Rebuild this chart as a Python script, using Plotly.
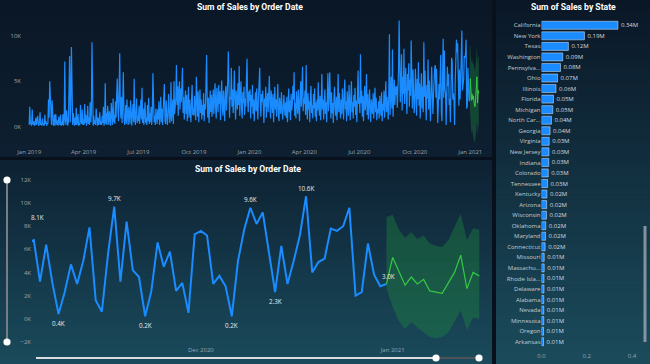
import pandas as pd
import plotly.graph_objects as go

# ---------------- DATA ----------------
# Daily sales in thousands (K), one list per month
sales_2019_01 = [0.2,2.2,0.3,0.5,0.1,1.9,0.4,0.2,0.6,0.1,0.3,1.0,0.2,0.8,1.2,0.3,0.1,0.5,1.6,0.2,0.4,0.1,0.9,0.3,0.2,0.1,1.3,0.3,0.6,0.1,0.4]
sales_2019_02 = [0.3,3.0,1.0,5.0,3.1,0.4,0.2,2.9,0.8,0.1,0.3,1.3,0.1,1.4,0.5,0.2,0.7,0.1,1.1,0.3,0.2,1.3,0.1,0.5,0.2,1.4,0.1,0.6]
sales_2019_03 = [7.2,0.9,0.2,1.8,0.4,0.1,0.6,3.5,7.8,0.5,2.6,8.8,0.4,0.2,1.5,0.3,0.1,1.0,0.2,2.1,0.2,0.5,1.4,0.1,0.4,0.2,2.4,0.6,0.3,1.9,0.2]
sales_2019_04 = [0.8,0.2,2.5,0.4,1.3,0.1,0.6,2.3,0.3,1.0,0.2,2.7,0.5,1.4,9.3,0.4,0.1,1.2,0.3,0.7,0.2,2.0,0.4,0.1,1.0,0.2,0.5,1.6,0.2,0.6]
sales_2019_05 = [0.2,1.2,0.4,2.2,0.1,0.6,4.8,0.3,1.5,0.2,2.3,0.7,0.2,1.7,0.4,0.1,2.6,0.8,0.2,3.1,0.5,1.3,0.3,2.8,1.0,3.5,5.3,2.0,0.6,3.9,8.1]
sales_2019_06 = [2.1,0.9,3.3,0.4,2.7,6.0,1.5,0.2,0.8,2.4,0.3,3.0,1.2,0.2,2.2,0.7,0.3,2.9,1.0,0.1,1.6,2.5,0.5,5.3,0.9,0.2,1.8,3.1,0.4,1.2]
sales_2019_07 = [0.6,2.3,0.3,1.6,3.0,0.8,4.3,0.4,2.0,0.2,1.3,2.7,0.4,1.0,0.2,2.4,0.6,3.2,0.3,1.5,0.5,2.2,0.2,1.4,5.9,2.3,0.5,1.2,0.2,2.0,0.7]
sales_2019_08 = [0.3,1.9,0.8,2.8,0.2,1.2,3.3,0.5,2.0,0.2,1.4,2.5,4.7,0.7,0.3,2.9,1.5,0.2,1.1,3.6,2.0,0.4,1.3,4.9,0.6,2.4,3.0,0.3,5.0,1.4,2.6]
sales_2019_09 = [3.1,6.8,2.4,4.5,1.2,3.8,5.0,1.9,4.2,2.7,4.9,6.5,1.5,3.3,0.8,2.6,4.0,1.4,3.5,0.6,2.2,4.4,1.0,3.0,1.8,0.5,2.9,4.6,1.3,2.0]
sales_2019_10 = [1.2,3.4,2.0,0.7,5.5,2.6,1.1,3.9,0.5,2.2,4.1,1.5,3.0,0.8,2.4,1.3,3.7,0.6,2.5,1.9,4.3,7.9,2.8,1.0,3.2,0.4,2.0,4.0,1.6,3.5,1.1]
sales_2019_11 = [2.3,4.1,1.4,3.6,4.8,2.0,0.9,4.3,3.1,1.6,4.6,2.5,3.9,0.7,3.4,5.1,2.2,1.2,4.0,2.8,0.6,3.7,4.5,1.8,2.9,5.0,8.3,2.4,1.0,3.3]
sales_2019_12 = [3.0,6.5,2.2,4.1,1.5,3.6,6.2,2.7,0.8,4.0,3.3,1.9,4.8,2.4,6.7,1.2,3.5,5.0,2.0,0.9,3.8,2.6,4.4,1.3,3.1,2.2,5.3,7.5,2.8,1.6,3.9]
sales_2020_01 = [2.8,4.1,0.9,3.5,2.2,4.6,1.4,3.0,0.6,2.5,3.8,1.7,4.2,2.0,0.8,3.3,5.0,6.5,2.4,1.1,3.6,2.7,4.0,1.5,0.4,3.1,2.2,4.4,1.0,2.9,3.7]
sales_2020_02 = [1.6,3.4,5.6,2.3,0.9,4.0,2.8,1.5,3.6,0.5,2.6,4.4,1.9,3.0,1.1,2.4,4.7,1.3,0.6,3.2,2.0,1.4,3.8,2.5,0.8,1.8,3.5,2.2,1.2]
sales_2020_03 = [2.7,1.0,3.3,0.5,2.1,4.2,1.6,2.9,0.7,3.6,1.8,2.4,4.5,3.0,6.0,1.2,2.6,0.9,3.9,2.0,1.4,4.1,2.8,0.6,3.4,5.0,2.2,4.6,6.6,1.7,3.1]
sales_2020_04 = [2.5,4.0,1.3,6.8,2.1,0.8,3.7,1.9,2.8,0.5,3.2,4.5,1.5,2.4,0.9,3.6,2.0,4.2,1.1,2.7,0.6,3.0,1.8,4.9,2.3,1.2,3.4,0.7,2.6,5.8]
sales_2020_05 = [1.9,3.0,0.8,2.4,4.1,1.4,2.7,0.5,3.5,5.9,1.7,2.9,6.0,2.2,0.9,3.8,1.5,2.6,0.4,3.1,4.4,2.0,1.2,3.3,0.7,2.5,5.8,1.6,3.7,2.1,0.9]
sales_2020_06 = [3.0,1.4,4.2,2.3,0.8,3.6,5.2,1.9,2.8,0.6,3.9,2.4,1.2,4.6,2.0,0.7,3.3,5.0,1.6,2.7,0.9,3.5,2.2,4.3,1.3,2.9,0.5,3.1,6.2,2.5]
sales_2020_07 = [3.2,1.5,8.0,2.6,4.0,1.1,3.4,0.6,2.2,4.5,1.8,2.9,5.8,1.3,3.6,0.8,2.4,4.1,1.9,0.5,3.0,2.3,1.4,3.7,0.9,2.7,4.3,1.6,3.2,0.7,2.0]
sales_2020_08 = [1.5,2.8,0.9,3.4,2.1,1.2,3.8,0.6,2.5,1.8,4.0,1.0,2.9,5.0,1.6,3.3,2.2,0.8,4.2,10.2,1.3,3.6,5.5,2.0,8.5,1.1,3.9,5.2,2.4,4.4,3.5]
sales_2020_09 = [4.5,2.1,3.8,6.0,11.7,7.2,2.7,4.9,8.0,1.8,5.5,3.6,8.6,2.5,4.2,6.5,3.0,1.4,5.8,4.0,7.0,2.2,5.2,3.4,9.5,4.6,2.0,6.3,3.9,1.5]
sales_2020_10 = [2.6,6.4,4.1,1.2,5.3,3.0,7.1,2.3,4.8,0.9,3.7,5.9,2.0,4.4,1.6,9.3,3.3,6.2,2.8,0.7,4.6,3.1,7.4,1.9,5.1,2.5,0.6,4.0,6.6,3.4,1.4]
sales_2020_11 = [3.5,5.8,6.5,6.8,3.2,6.4,3.1,0.4,2.3,4.7,3.0,5.0,7.9,1.6,0.6,5.6,9.7,3.2,8.4,4.2,3.6,0.2,2.4,6.6,4.5,5.8,2.4,3.1,0.5,7.3]
sales_2020_12 = [7.6,7.2,3.0,3.7,2.8,0.2,5.0,7.7,9.6,8.2,9.2,5.6,2.3,6.3,3.0,5.0,7.2,10.6,4.0,4.9,5.2,7.8,7.6,8.0,9.6,2.0,2.3,6.5,3.8,2.8,3.0]

# Forecast (K), 2020-12-31 (anchor on last actual) through 2021-01-15
forecast_mid   = [3.0, 5.3, 4.1, 2.9, 3.6, 3.0, 3.4, 2.4, 2.3, 2.2, 3.1, 4.0, 5.5, 2.6, 4.0, 3.7]
forecast_upper = [8.8, 9.0, 7.7, 7.0, 7.5, 6.9, 7.2, 6.5, 6.3, 6.2, 6.8, 7.9, 9.1, 6.8, 7.8, 7.7]
forecast_lower = [2.6, 1.0, -0.2, -0.9, -0.3, -0.8, -1.2, -1.6, -1.7, -1.6, -1.2, -0.3, 0.7, -1.0, 0.1, 0.0]

# Sales by state (millions)
states = ["California", "New York", "Texas", "Washington", "Pennsylvania", "Ohio", "Illinois",
          "Florida", "Michigan", "North Carolina", "Georgia", "Virginia", "New Jersey", "Indiana",
          "Colorado", "Tennessee", "Kentucky", "Arizona", "Wisconsin", "Oklahoma", "Maryland",
          "Connecticut", "Missouri", "Massachusetts", "Rhode Island", "Delaware", "Alabama",
          "Nevada", "Minnesota", "Oregon", "Arkansas"]
state_labels = ["California", "New York", "Texas", "Washington", "Pennsylva...", "Ohio", "Illinois",
                "Florida", "Michigan", "North Car...", "Georgia", "Virginia", "New Jersey", "Indiana",
                "Colorado", "Tennessee", "Kentucky", "Arizona", "Wisconsin", "Oklahoma", "Maryland",
                "Connecticut", "Missouri", "Massachu...", "Rhode Isla...", "Delaware", "Alabama",
                "Nevada", "Minnesota", "Oregon", "Arkansas"]
state_sales = [0.338, 0.190, 0.119, 0.094, 0.084, 0.071, 0.064, 0.053, 0.050, 0.044, 0.038, 0.034,
               0.033, 0.032, 0.030, 0.027, 0.024, 0.023, 0.022, 0.019, 0.018, 0.016, 0.012, 0.012,
               0.011, 0.011, 0.010, 0.010, 0.010, 0.009, 0.009]

# Data labels shown on the zoomed chart
label_dates = ["2020-11-04", "2020-11-08", "2020-11-17", "2020-11-22", "2020-12-06",
               "2020-12-09", "2020-12-13", "2020-12-18", "2020-12-31"]
label_texts = ["8.1K", "0.4K", "9.7K", "0.2K", "0.2K", "9.6K", "2.3K", "10.6K", "3.0K"]

# ---------------- BUILD SERIES ----------------
months = [sales_2019_01, sales_2019_02, sales_2019_03, sales_2019_04, sales_2019_05, sales_2019_06,
          sales_2019_07, sales_2019_08, sales_2019_09, sales_2019_10, sales_2019_11, sales_2019_12,
          sales_2020_01, sales_2020_02, sales_2020_03, sales_2020_04, sales_2020_05, sales_2020_06,
          sales_2020_07, sales_2020_08, sales_2020_09, sales_2020_10, sales_2020_11, sales_2020_12]
month_starts = pd.date_range("2019-01-01", periods=24, freq="MS")
dates, values = [], []
for start, vals in zip(month_starts, months):
    assert len(vals) == start.days_in_month, (start, len(vals))
    dates += list(pd.date_range(start, periods=len(vals), freq="D"))
    values += vals
series = pd.Series(values, index=pd.DatetimeIndex(dates))
f_dates = pd.date_range("2020-12-31", periods=len(forecast_mid), freq="D")

# ---------------- STYLE ----------------
W, H = 650, 364
def px(x): return x / W
def py(y): return 1 - y / H

BLUE = "#1a8cff"
GREEN = "#36c944"
BAND = "rgba(32,140,62,0.38)"
TICK = "#9aa5af"
FONT = "Open Sans"

fig = go.Figure()

for xa, ya, lw, gw in [("x", "y", 1.2, 1.0), ("x2", "y2", 2.0, 1.2)]:
    fig.add_trace(go.Scatter(x=list(f_dates) + list(f_dates[::-1]),
                             y=forecast_upper + forecast_lower[::-1],
                             fill="toself", fillcolor=BAND, line=dict(width=0),
                             mode="lines", xaxis=xa, yaxis=ya, hoverinfo="skip"))
    fig.add_trace(go.Scatter(x=series.index, y=series.values, mode="lines",
                             line=dict(color=BLUE, width=lw), xaxis=xa, yaxis=ya))
    fig.add_trace(go.Scatter(x=f_dates, y=forecast_mid, mode="lines",
                             line=dict(color=GREEN, width=gw), xaxis=xa, yaxis=ya))

fig.add_trace(go.Bar(x=state_sales, y=states, orientation="h", marker=dict(color="#1a8cff"),
                     texttemplate="%{x:.2f}M", textposition="outside", cliponaxis=False,
                     constraintext="none",
                     textfont=dict(size=6, color="#d3dae0", family=FONT),
                     xaxis="x3", yaxis="y3", width=0.76))

# ---------------- BACKGROUND ----------------
shapes = []
def hexrgb(h): return tuple(int(h[i:i+2], 16) for i in (1, 3, 5))
def gradient(x0, x1, y0, y1, c0, c1, n=40):
    a, b = hexrgb(c0), hexrgb(c1)
    for i in range(n):
        t = i / (n - 1)
        c = "rgb(%d,%d,%d)" % tuple(round(a[k] + (b[k] - a[k]) * t) for k in range(3))
        ya = y0 + (y1 - y0) * i / n
        yb = min(y1, y0 + (y1 - y0) * (i + 1) / n + 0.7)
        shapes.append(dict(type="rect", xref="paper", yref="paper", layer="below",
                           x0=px(x0), x1=px(x1), y0=py(ya), y1=py(yb),
                           fillcolor=c, line=dict(width=0)))

gradient(0, 492, 0, 157, "#0a1727", "#0d1f30", 20)
gradient(0, 492, 160, 364, "#0d2233", "#1a4a5b", 40)
gradient(496, 650, 0, 364, "#0a1727", "#1b4b5b", 60)

def line(x0, y0, x1, y1, color, w):
    shapes.append(dict(type="line", xref="paper", yref="paper", x0=px(x0), y0=py(y0),
                       x1=px(x1), y1=py(y1), line=dict(color=color, width=w)))
def dot(x, y, r=3.6):
    shapes.append(dict(type="circle", xref="paper", yref="paper", x0=px(x - r), x1=px(x + r),
                       y0=py(y + r), y1=py(y - r), fillcolor="#ffffff", line=dict(width=0)))

# vertical slider
line(7, 180, 7, 342, "#777d82", 2)
dot(7, 180); dot(7, 342)
# horizontal slider
line(36, 358, 436, 358, "#d9dde0", 2)
line(436, 358, 479, 358, "#4d5358", 2)
dot(436, 358); dot(479, 358)
# scrollbar
shapes.append(dict(type="rect", xref="paper", yref="paper", x0=px(643.5), x1=px(646.5),
                   y0=py(342), y1=py(226), fillcolor="#a7b0b8", opacity=0.75, line=dict(width=0)))

# ---------------- ANNOTATIONS ----------------
ann = []
def title(text, x, y):
    ann.append(dict(text=text, xref="paper", yref="paper", x=px(x), y=py(y), showarrow=False,
                    xanchor="center", yanchor="middle",
                    font=dict(family="Roboto", size=8.6, color="#ffffff", weight="bold")))
title("Sum of Sales by Order Date", 249.5, 6.5)
title("Sum of Sales by Order Date", 248, 168.5)
title("Sum of Sales by State", 573, 6.5)

label_offsets = [(4, 23), (0, -9), (0, 8), (0, -9), (0, -9), (0, 8), (0, -9), (0, 8), (2, 7)]
for d, t, (dx, dy) in zip(label_dates, label_texts, label_offsets):
    ann.append(dict(text=t, x=pd.Timestamp(d), y=float(series[pd.Timestamp(d)]),
                    xref="x2", yref="y2", showarrow=False, xshift=dx, yshift=dy,
                    font=dict(family=FONT, size=6.3, color="#e4eaee")))

tickfont = dict(family=FONT, size=6, color=TICK)
common = dict(showgrid=False, zeroline=False, showline=False, ticks="", tickfont=tickfont,
              automargin=False)

fig.update_layout(
    width=W, height=H, autosize=False, margin=dict(l=0, r=0, t=0, b=0, pad=0),
    paper_bgcolor="#07101b", plot_bgcolor="rgba(0,0,0,0)", showlegend=False,
    shapes=shapes, annotations=ann,
    xaxis=dict(domain=[px(22), px(490)], anchor="y", type="date",
               range=["2018-12-20 02:00", "2021-02-02 15:00"], ticklabelstandoff=2,
               tick0="2019-01-01", dtick="M3", tickformat="%b %Y", **common),
    yaxis=dict(domain=[py(145), py(13)], anchor="x", range=[-2.02, 12.54],
               tick0=0, dtick=5, ticksuffix="K", **common),
    xaxis2=dict(domain=[px(32), px(486)], anchor="y2", type="date",
                range=["2020-11-03 17:00", "2021-01-16 02:00"], ticklabelstandoff=2,
                tick0="2020-12-01", dtick="M1", tickformat="%b %Y", **common),
    yaxis2=dict(domain=[py(343), py(176)], anchor="x2", range=[-2.11, 12.35],
                tick0=0, dtick=2, ticksuffix="K", **common),
    xaxis3=dict(domain=[px(541.5), px(643)], anchor="y3", range=[0, 0.449],
                tickvals=[0, 0.2, 0.4], tickformat=".1f", ticksuffix="M",
                ticklabelstandoff=4, **common),
    yaxis3=dict(domain=[py(347), py(20)], anchor="x3", type="category",
                range=[len(states) - 0.5, -0.5], tickvals=states, ticktext=state_labels,
                showgrid=False, zeroline=False, showline=False, ticks="", automargin=False,
                tickfont=dict(family=FONT, size=6, color="#c3cbd2")),
)

fig.write_html("out.html", config={"displayModeBar": False},
               post_script="document.body.style.margin='0';document.body.style.overflow='hidden';")
